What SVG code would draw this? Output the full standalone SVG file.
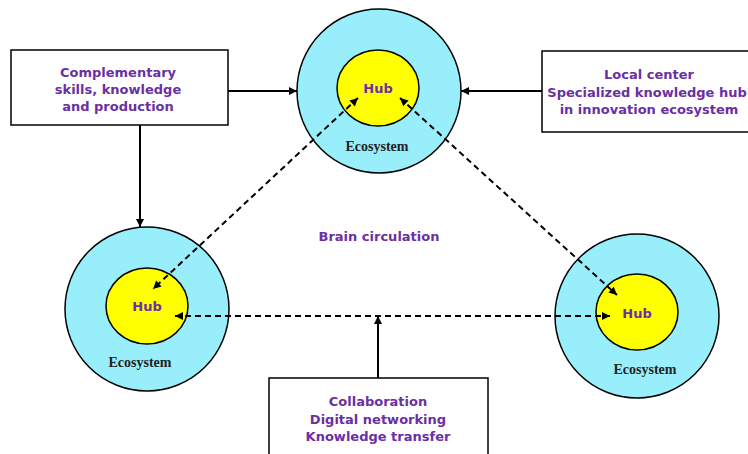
<svg xmlns="http://www.w3.org/2000/svg" width="748" height="454" viewBox="0 0 748 454">
  <defs>
    <marker id="arrow" viewBox="0 0 10 10" refX="10" refY="5" markerWidth="9" markerHeight="8" markerUnits="userSpaceOnUse" orient="auto-start-reverse">
      <path d="M0,0 L10,5 L0,10 z" fill="#000"/>
    </marker>
    <style>
      .box { fill: #fff; stroke: #000; stroke-width: 1.5; }
      .outer { fill: #99EEFC; stroke: #000; stroke-width: 1.5; }
      .inner { fill: #FFFF00; stroke: #000; stroke-width: 1.5; }
      .label { font-family: "DejaVu Sans", Verdana, sans-serif; font-weight: bold; font-size: 13px; fill: #6A2FA3; text-anchor: middle; }
      .eco { font-family: "Liberation Serif", "Times New Roman", serif; font-weight: bold; font-size: 14px; fill: #222; text-anchor: middle; }
      .solid { fill: none; stroke: #000; stroke-width: 2; }
      .dashed { fill: none; stroke: #000; stroke-width: 2; stroke-dasharray: 6 4; }
    </style>
  </defs>

  <!-- ecosystems with their hubs -->
  <g id="eco-top">
    <circle class="outer" cx="379" cy="91" r="82"/>
    <ellipse class="inner" cx="378" cy="88" rx="41" ry="38"/>
    <text class="label" x="378" y="93">Hub</text>
    <text class="eco" x="377" y="151">Ecosystem</text>
  </g>
  <g id="eco-left">
    <circle class="outer" cx="147" cy="309" r="82"/>
    <ellipse class="inner" cx="147" cy="306" rx="41" ry="38"/>
    <text class="label" x="147" y="311">Hub</text>
    <text class="eco" x="140" y="367">Ecosystem</text>
  </g>
  <g id="eco-right">
    <circle class="outer" cx="637" cy="316" r="82"/>
    <ellipse class="inner" cx="637" cy="312" rx="41" ry="38"/>
    <text class="label" x="637" y="318">Hub</text>
    <text class="eco" x="645" y="374">Ecosystem</text>
  </g>

  <!-- input boxes -->
  <g id="box-skills">
    <rect class="box" x="11" y="50" width="217" height="75"/>
    <text class="label" x="118" y="77">Complementary</text>
    <text class="label" x="118" y="94">skills, knowledge</text>
    <text class="label" x="118" y="111">and production</text>
  </g>
  <g id="box-local">
    <rect class="box" x="542" y="51" width="220" height="81"/>
    <text class="label" x="649" y="79">Local center</text>
    <text class="label" x="647" y="97">Specialized knowledge hub</text>
    <text class="label" x="649" y="114">in innovation ecosystem</text>
  </g>
  <g id="box-collab">
    <rect class="box" x="269" y="378" width="219" height="90"/>
    <text class="label" x="378" y="406">Collaboration</text>
    <text class="label" x="378" y="424">Digital networking</text>
    <text class="label" x="378" y="441">Knowledge transfer</text>
  </g>

  <g id="center-label">
    <text class="label" x="379" y="241">Brain circulation</text>
  </g>

  <!-- connectors -->
  <g id="connectors">
    <line class="solid" x1="228" y1="91" x2="297" y2="91" marker-end="url(#arrow)"/>
    <line class="solid" x1="542" y1="91" x2="461" y2="91" marker-end="url(#arrow)"/>
    <line class="solid" x1="140" y1="125" x2="140" y2="227" marker-end="url(#arrow)"/>
    <line class="solid" x1="378" y1="378" x2="378" y2="316" marker-end="url(#arrow)"/>
    <line class="dashed" x1="358" y1="98" x2="153" y2="289" marker-start="url(#arrow)" marker-end="url(#arrow)"/>
    <line class="dashed" x1="400" y1="98" x2="617" y2="295" marker-start="url(#arrow)" marker-end="url(#arrow)"/>
    <line class="dashed" x1="175" y1="316" x2="610" y2="316" marker-start="url(#arrow)" marker-end="url(#arrow)"/>
  </g>
</svg>
